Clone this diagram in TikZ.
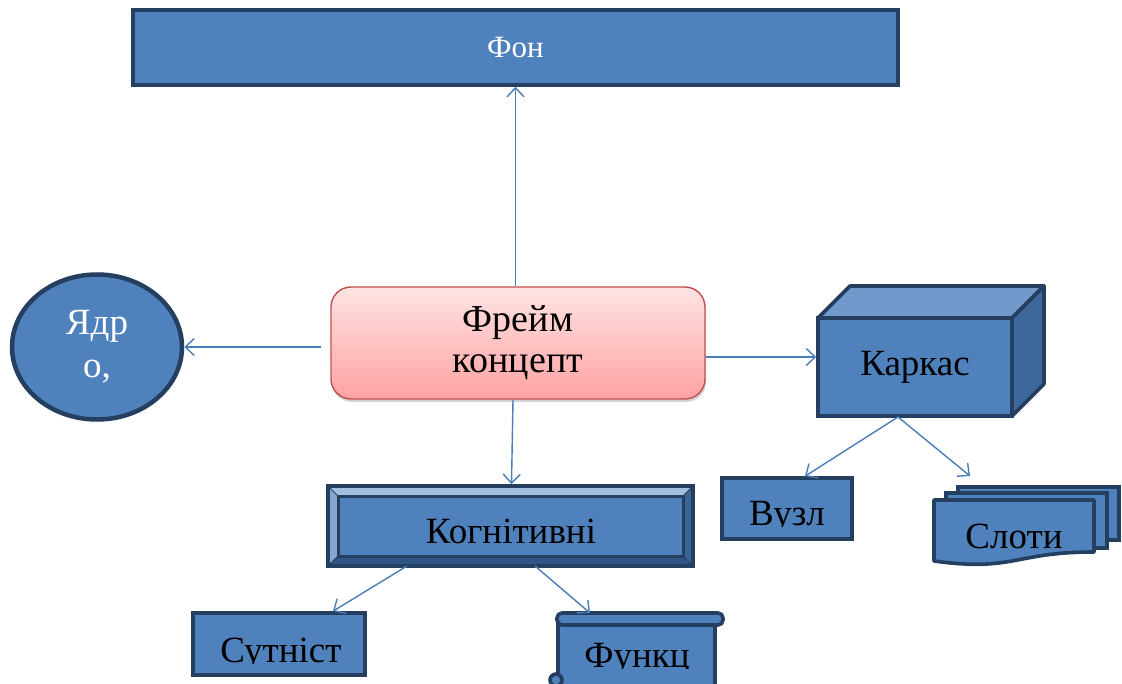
\documentclass[tikz,border=0pt]{standalone}
\usepackage{fontspec}
\setmainfont{Liberation Serif}
\usetikzlibrary{arrows.meta,shadows,shapes.geometric}
\definecolor{bfill}{HTML}{4F81BD}
\definecolor{bdark}{HTML}{243F60}
\definecolor{aline}{HTML}{4A7EBB}
\definecolor{ftop}{HTML}{FFE3E3}
\definecolor{fbot}{HTML}{FFA2A2}
\definecolor{fred}{HTML}{C0504D}
\definecolor{ctop}{HTML}{7199CC}
\definecolor{cside}{HTML}{3E6899}
\definecolor{bvlight}{HTML}{A3BEE0}
\definecolor{bvmid}{HTML}{86A7D3}
\definecolor{bvdark}{HTML}{2F5587}
\definecolor{bvdark2}{HTML}{3A6496}
\begin{document}
\begin{tikzpicture}[x=1pt,y=-1pt,
  bigtext/.style={font=\fontsize{37}{42}\selectfont},
  bluebox/.style={draw=bdark,line width=3.6pt,fill=bfill},
  conn/.style={draw=aline,line width=1.4pt,-{Straight Barb[length=9pt,width=17pt]}}]
\useasboundingbox (0,0) rectangle (1122,684);

% Fon
\node[bluebox,minimum width=765pt,minimum height=75pt,text=white,
  font=\fontsize{31}{36}\selectfont] (fon) at (515.5,47.5) {Фон};

% Frame concept
\node[draw=fred,line width=1.4pt,rounded corners=20pt,top color=ftop,bottom color=fbot,
  minimum width=374pt,minimum height=112pt,align=center,
  font=\fontsize{38}{41}\selectfont,
  drop shadow={shadow xshift=1pt,shadow yshift=-3pt,opacity=0.35}] (frame) at (518,343) {Фрейм\\концепт};

% Yadro
\node[ellipse,bluebox,line width=4.5pt,minimum width=170pt,minimum height=145pt,
  text=white,align=center,font=\fontsize{37}{43}\selectfont] (yadro) at (97,347) {Ядр\\о,};

% Karkas cube
\filldraw[fill=ctop,draw=bdark,line width=3.6pt,line join=round]
  (818,318) -- (850,286) -- (1044,286) -- (1012,318) -- cycle;
\filldraw[fill=cside,draw=bdark,line width=3.6pt,line join=round]
  (1012,318) -- (1044,286) -- (1044,384) -- (1012,416) -- cycle;
\node[bluebox,minimum width=194pt,minimum height=98pt,bigtext] (karkas) at (915,367) {Каркас};

% Vuzl
\node[bluebox,minimum width=130pt,minimum height=61pt] (vuzl) at (787,508.5) {};
\begin{scope}
  \clip (722,478) rectangle (852,526);
  \node[bigtext,anchor=base,inner sep=0pt] (vuzltext) at (787,525) {Вузл};
\end{scope}

% Sloty multi-document
\filldraw[bluebox] (958,487) rectangle (1119,540);
\filldraw[bluebox] (946,493) rectangle (1107,548);
\filldraw[bluebox,line join=round] (934,500) -- (1094,500) -- (1094,552)
  .. controls (1014,552) and (1014,572) .. (934,561) -- cycle;
\node[bigtext,anchor=base,inner sep=0pt] (sloty) at (1014,548) {Слоти};

% Kognitivni bevel
\fill[bfill] (328,486) rectangle (693,566);
\fill[bvlight] (328,486) -- (693,486) -- (683,496) -- (338,496) -- cycle;
\fill[bvmid] (328,486) -- (338,496) -- (338,556) -- (328,566) -- cycle;
\fill[bvdark] (328,566) -- (338,556) -- (683,556) -- (693,566) -- cycle;
\fill[bvdark2] (693,486) -- (683,496) -- (683,556) -- (693,566) -- cycle;
\draw[bdark,line width=1pt] (328,486) -- (338,496) (693,486) -- (683,496)
  (328,566) -- (338,556) (693,566) -- (683,556);
\draw[bdark,line width=3pt] (338,496) rectangle (683,556);
\node[draw=bdark,line width=3.6pt,minimum width=365pt,minimum height=80pt] (kog) at (510.5,526) {};
\node[bigtext,anchor=base,inner sep=0pt] (kogtext) at (511,543) {Когнітивні};

% Sutnist
\node[bluebox,minimum width=172pt,minimum height=62pt] (sut) at (279,644) {};
\begin{scope}
  \clip (193,613) rectangle (365,663);
  \node[bigtext,anchor=base,inner sep=0pt] (suttext) at (281,662) {Сутніст};
\end{scope}

% Funkc scroll
\filldraw[bluebox] (558,620) rectangle (715,690);
\filldraw[bluebox,rounded corners=5pt] (557,613) rectangle (723,625);
\draw[bfill,line width=3pt] (563,619) -- (716,619);
\filldraw[bluebox] (556,680) circle (6pt);
\node[minimum width=166pt,minimum height=71pt,inner sep=0pt] (funk) at (640,649) {};
\begin{scope}
  \clip (558,626) rectangle (715,668);
  \node[bigtext,anchor=base,inner sep=0pt] (funktext) at (637,667) {Функц};
\end{scope}

% connectors
\draw[conn] (frame.north -| fon.south) -- (fon.south);
\draw[conn] ([xshift=-9pt]frame.west |- yadro.east) -- (yadro.east);
\draw[conn] (frame.east |- 0,357) -- (karkas.west |- 0,357);
\draw[conn] ([xshift=-5pt]frame.south) -- ([xshift=1pt]kog.north);
\coordinate (kb) at (898,417);
\draw[conn] (kb) -- ([xshift=18pt]vuzl.north);
\draw[conn] (kb) -- (970,476);
\coordinate (k1) at (407,566);
\coordinate (k2) at (535,566);
\draw[conn] (k1) -- ([xshift=54pt]sut.north);
\draw[conn] (k2) -- (590,613);
\end{tikzpicture}
\end{document}
